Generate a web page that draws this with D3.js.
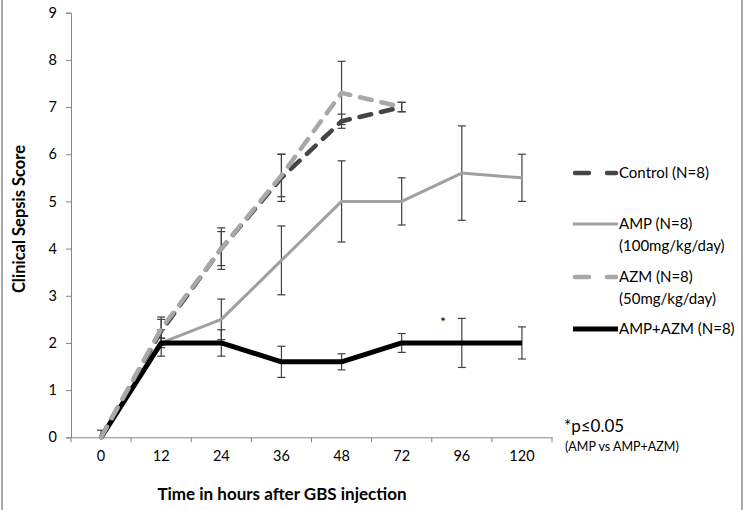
<!DOCTYPE html>
<html>
<head>
<meta charset="utf-8">
<script src="https://cdnjs.cloudflare.com/ajax/libs/d3/7.8.5/d3.min.js"></script>
<style>
  body { margin: 0; background: #fff; }
  svg text { font-family: Lato, "Open Sans", sans-serif; fill: #000; }
</style>
</head>
<body>
<div id="chart"></div>
<script>
// time points (categorical axis)
var hours = ["0", "12", "24", "36", "48", "72", "96", "120"];

// mean clinical sepsis score and error (SE)
var controlVals = [0, 2.25, 4.0, 5.5, 6.7, 7.0];
var controlErr  = [0, 0.3, 0.36, 0.5, 0.15, 0.1];
var ampVals = [0, 2.0, 2.5, 3.75, 5.0, 5.0, 5.6, 5.5];
var ampErr  = [0, 0.1, 0.43, 0.73, 0.86, 0.5, 1.0, 0.5];
var azmVals = [0, 2.3, 4.0, 5.55, 7.3, 7.0];
var azmErr  = [0.15, 0.2, 0.44, 0.45, 0.67, 0.1];
var comboVals = [0, 2.0, 2.0, 1.6, 1.6, 2.0, 2.0, 2.0];
var comboErr  = [0, 0.28, 0.28, 0.33, 0.17, 0.2, 0.52, 0.34];

var yTicks = [0, 1, 2, 3, 4, 5, 6, 7, 8, 9];

var series = [
  { name: "Control (N=8)", sub: null, vals: controlVals, err: controlErr, color: "#454545", width: 4.5, dash: "12,10" },
  { name: "AMP (N=8)", sub: "(100mg/kg/day)", vals: ampVals, err: ampErr, color: "#a0a0a0", width: 3, dash: null },
  { name: "AZM (N=8)", sub: "(50mg/kg/day)", vals: azmVals, err: azmErr, color: "#a8a8a8", width: 4.5, dash: "12,10" },
  { name: "AMP+AZM (N=8)", sub: null, vals: comboVals, err: comboErr, color: "#000", width: 5, dash: null }
];

var W = 745, H = 510;
var svg = d3.select("#chart").append("svg").attr("width", W).attr("height", H);

var x = d3.scaleBand().domain(hours).range([71, 552]).paddingInner(0).paddingOuter(0);
var y = d3.scaleLinear().domain([0, 9]).range([437.3, 12.7]);
var cx = function(h) { return x(h) + x.bandwidth() / 2; };

// outer frame (left and right edges)
svg.append("line").attr("x1", 2).attr("x2", 2).attr("y1", 0).attr("y2", H).attr("stroke", "#8c8c8c").attr("stroke-width", 1.5);
svg.append("line").attr("x1", 742).attr("x2", 742).attr("y1", 0).attr("y2", H).attr("stroke", "#8c8c8c").attr("stroke-width", 1.5);

// y axis
var yAxis = svg.append("g").attr("transform", "translate(71,0)")
  .call(d3.axisLeft(y).tickValues(yTicks).tickSize(5).tickPadding(9).tickFormat(d3.format("d")));
yAxis.select(".domain").attr("stroke", "#868686");
yAxis.selectAll(".tick line").attr("stroke", "#868686");
yAxis.selectAll(".tick text").style("font-size", "14.5px");

// x axis: labels centred, ticks on band boundaries
var xAxis = svg.append("g").attr("transform", "translate(0," + y(0) + ")")
  .call(d3.axisBottom(x).tickSize(0).tickPadding(13));
xAxis.select(".domain").attr("stroke", "#868686");
xAxis.selectAll(".tick text").style("font-size", "14.5px");
var bounds = hours.map(function(h) { return x(h); }).concat([x.range()[1]]);
xAxis.selectAll(".bound").data(bounds).enter().append("line")
  .attr("x1", function(d) { return d; }).attr("x2", function(d) { return d; })
  .attr("y1", 0).attr("y2", 5).attr("stroke", "#868686");

// axis titles
svg.append("text")
  .attr("transform", "translate(25,219) rotate(-90)")
  .attr("text-anchor", "middle").style("font-size", "16.5px").style("font-weight", "bold")
  .text("Clinical Sepsis Score");
svg.append("text")
  .attr("x", 282).attr("y", 500).attr("text-anchor", "middle")
  .style("font-size", "17px").style("font-weight", "bold")
  .text("Time in hours after GBS injection");

// error bars
series.forEach(function(s) {
  var g = svg.append("g");
  s.vals.forEach(function(v, i) {
    var e = s.err[i];
    if (!e) return;
    var px = cx(hours[i]);
    var lo = Math.max(0, v - e), hi = v + e;
    g.append("line").attr("x1", px).attr("x2", px).attr("y1", y(lo)).attr("y2", y(hi)).attr("stroke", "#404040").attr("stroke-width", 1.2);
    g.append("line").attr("x1", px - 4).attr("x2", px + 4).attr("y1", y(hi)).attr("y2", y(hi)).attr("stroke", "#404040").attr("stroke-width", 1.2);
    if (v - e >= 0)
      g.append("line").attr("x1", px - 4).attr("x2", px + 4).attr("y1", y(lo)).attr("y2", y(lo)).attr("stroke", "#404040").attr("stroke-width", 1.2);
  });
});

// lines
var line = d3.line().x(function(d, i) { return cx(hours[i]); }).y(function(d) { return y(d); });
[series[1], series[3], series[0], series[2]].forEach(function(s) {
  svg.append("path").datum(s.vals)
    .attr("d", line)
    .attr("fill", "none")
    .attr("stroke", s.color)
    .attr("stroke-width", s.width)
    .attr("stroke-dasharray", s.dash)
    .attr("stroke-linecap", s.dash ? "round" : "butt")
    .attr("stroke-linejoin", "round");
});

// significance marker
svg.append("text").attr("x", 443).attr("y", 327).attr("text-anchor", "middle").style("font-size", "14px").text("*");

// legend
var legY = [173, 224, 277, 329];
var leg = svg.append("g");
series.forEach(function(s, i) {
  var ly = legY[i];
  if (s.dash) {
    leg.append("line").attr("x1", 575).attr("x2", 589).attr("y1", ly).attr("y2", ly)
      .attr("stroke", s.color).attr("stroke-width", s.width).attr("stroke-linecap", "round");
    leg.append("line").attr("x1", 607).attr("x2", 616).attr("y1", ly).attr("y2", ly)
      .attr("stroke", s.color).attr("stroke-width", s.width).attr("stroke-linecap", "round");
  } else {
    leg.append("line").attr("x1", 573).attr("x2", 618).attr("y1", ly).attr("y2", ly)
      .attr("stroke", s.color).attr("stroke-width", s.width);
  }
  leg.append("text").attr("x", 619).attr("y", ly + 5).style("font-size", "15px").text(s.name);
  if (s.sub) leg.append("text").attr("x", 619).attr("y", ly + 27).style("font-size", "15px").text(s.sub);
});

// footnote
svg.append("text").attr("x", 564).attr("y", 432).style("font-size", "17px").text("*p\u22640.05");
svg.append("text").attr("x", 565).attr("y", 451).style("font-size", "12.5px").text("(AMP vs AMP+AZM)");
</script>
</body>
</html>
